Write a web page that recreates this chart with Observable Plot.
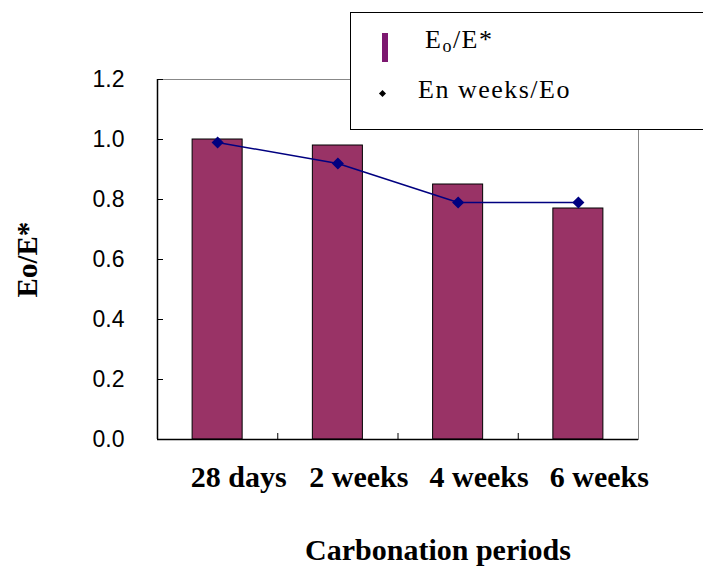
<!DOCTYPE html>
<html>
<head>
<meta charset="utf-8">
<script src="https://cdn.jsdelivr.net/npm/d3@7"></script>
<script src="https://cdn.jsdelivr.net/npm/@observablehq/plot@0.6"></script>
<style>
  html, body { margin: 0; padding: 0; background: #fff; }
  #wrap { position: relative; width: 703px; height: 566px; overflow: hidden; }
  #legend {
    position: absolute; left: 350px; top: 12px; width: 380px; height: 118px;
    background: #fff; border: 1.5px solid #000; box-sizing: border-box;
    font-family: "Liberation Serif", "Times New Roman", serif; font-size: 26px; color: #000;
  }
  #legend .key1 { position: absolute; left: 31px; top: 20px; width: 6px; height: 29px; background: #7d1870; }
  #legend .t1 { position: absolute; left: 74px; top: 12px; letter-spacing: 1.5px; white-space: nowrap; }
  #legend .t1 sub { font-size: 18px; vertical-align: -4px; }
  #legend .key2 { position: absolute; left: 29px; top: 78px; width: 5px; height: 5px; background: #000; transform: rotate(45deg); }
  #legend .t2 { position: absolute; left: 67px; top: 62px; letter-spacing: 1.5px; white-space: nowrap; }
</style>
</head>
<body>
<div id="wrap">
  <div id="chart"></div>
  <div id="legend">
    <span class="key1"></span><span class="t1">E<sub>o</sub>/E*</span>
    <span class="key2"></span><span class="t2">En weeks/Eo</span>
  </div>
</div>
<script>
const categories = ["28 days", "2 weeks", "4 weeks", "6 weeks"];
const ratioBars = [1.00, 0.98, 0.85, 0.77];      // Eo/E*
const ratioLine = [0.99, 0.92, 0.79, 0.79];      // En weeks/Eo
const yTicks = [0, 0.2, 0.4, 0.6, 0.8, 1.0, 1.2];

const rows = categories.map((c, i) => ({c, i, bar: ratioBars[i], line: ratioLine[i]}));
const half = 0.208;
const sans = "'Liberation Sans', Arial, sans-serif";
const serif = "'Liberation Serif', 'Times New Roman', serif";

const chart = Plot.plot({
  width: 703,
  height: 566,
  marginLeft: 157,
  marginRight: 65,
  marginTop: 79,
  marginBottom: 127,
  style: {background: "#fff", overflow: "visible"},
  x: {type: "linear", domain: [0, categories.length], axis: null},
  y: {domain: [0, 1.2], axis: null},
  marks: [
    Plot.frame({stroke: "#888", strokeWidth: 1}),
    Plot.rectY(rows, {x1: d => d.i + 0.5 - half, x2: d => d.i + 0.5 + half, y1: 0, y2: "bar",
      fill: "#993366", stroke: "#000", strokeWidth: 1}),
    Plot.line(rows, {x: d => d.i + 0.5, y: "line", stroke: "#000080", strokeWidth: 1.5}),
    Plot.dot(rows, {x: d => d.i + 0.5, y: "line", symbol: "diamond2", r: 4.5, fill: "#000080", stroke: "#000080"}),
    Plot.ruleX([0], {stroke: "#000", strokeWidth: 1.5}),
    Plot.ruleY([0], {stroke: "#000", strokeWidth: 1.5}),
    Plot.ruleY(yTicks, {y: d => d, x1: 0, x2: 0.05, stroke: "#000"}),
    Plot.ruleX(d3.range(1, categories.length), {x: d => d, y1: 0, y2: 0.02, stroke: "#000"}),
    Plot.text(yTicks, {x: 0, y: d => d, text: d => d.toFixed(1), textAnchor: "end", dx: -33,
      fontSize: 23, fontFamily: sans, fill: "#000"}),
    Plot.text(rows, {x: d => d.i + 0.5, frameAnchor: "bottom", text: "c", dx: 21, dy: 26, lineAnchor: "top",
      textAnchor: "middle", fontSize: 30, fontWeight: "bold", fontFamily: serif, fill: "#000",
      style: {letterSpacing: "0.5px"}}),
    Plot.text(["Carbonation periods"], {frameAnchor: "bottom", dx: 40, dy: 99, lineAnchor: "top",
      textAnchor: "middle", fontSize: 30, fontWeight: "bold", fontFamily: serif, fill: "#000"}),
    Plot.text(["Eo/E*"], {frameAnchor: "left", rotate: -90, dx: -130, dy: 0, textAnchor: "middle",
      fontSize: 29, fontWeight: "bold", fontFamily: serif, fill: "#000"})
  ]
});
document.getElementById("chart").appendChild(chart);
</script>
</body>
</html>
